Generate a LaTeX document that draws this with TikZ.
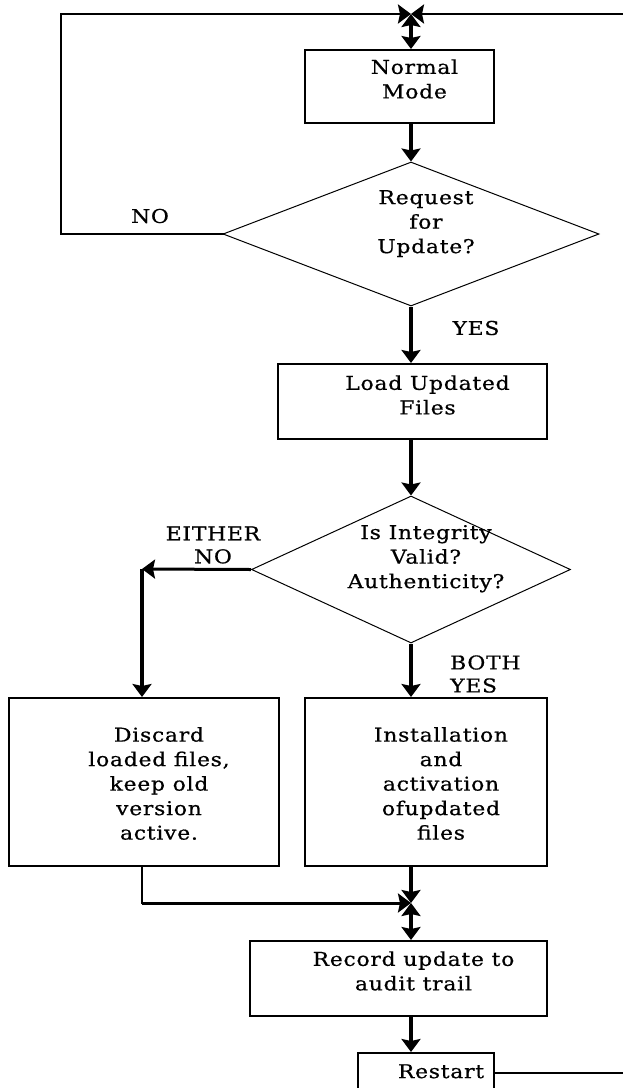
\documentclass[tikz,border=0pt]{standalone}
\usepackage{fontspec}
\setmainfont[FakeStretch=1.15,LetterSpace=4,FakeBold=0.7]{DejaVu Serif}
\usetikzlibrary{shapes.geometric, arrows.meta}
% text sits a bit right of the box centre, raised by #1
\newcommand{\boxtext}[2][0pt]{\makebox[0pt]{\hspace*{30pt}\smash{\raisebox{#1}{\begin{tabular}{@{}c@{}}#2\end{tabular}}}}}

\begin{document}
\begin{tikzpicture}[x=1pt, y=-1pt,
  box/.style={rectangle, draw, line width=2pt, inner sep=0pt,
              font=\fontsize{19}{24.5}\selectfont},
  test/.style={diamond, draw, line width=1pt, inner sep=0pt,
               font=\fontsize{19}{24.5}\selectfont},
  lbl/.style={inner sep=0pt, align=center, font=\fontsize{19}{23}\selectfont},
  arr/.style={-{Stealth[length=13pt, width=19pt, inset=2pt]}, line width=4pt},
  darr/.style={{Stealth[length=13pt, width=19pt, inset=2pt]}-{Stealth[length=13pt, width=19pt, inset=2pt]},
               line width=4pt},
  link/.style={line width=2pt, line cap=rect}
]
  \useasboundingbox (0,0) rectangle (623,1088);

  % junctions and bends
  \coordinate (j1) at (411,14);
  \coordinate (j2) at (411,903);
  \coordinate (topleft) at (61,14);
  \coordinate (topright) at (623,14);
  \coordinate (turn) at (142,569);
  \coordinate (turn2) at (142,903);
  \coordinate (rightend) at (623,1073);

  \node[box, minimum width=189pt, minimum height=73pt] (normal) at (399.5,86.5)
       {\boxtext[1pt]{Normal\\Mode}};
  \node[test, minimum width=376pt, minimum height=144pt] (request) at (411,234)
       {\boxtext[6pt]{Request\\for\\Update?}};
  \node[box, minimum width=269pt, minimum height=75pt] (load) at (412.5,401.5)
       {\boxtext{Load Updated\\Files}};
  \node[test, minimum width=319pt, minimum height=147pt] (valid) at (411,569.5)
       {\boxtext[6.5pt]{Is Integrity\\Valid?\\Authenticity?}};
  \node[box, minimum width=270pt, minimum height=168pt] (discard) at (144,782)
       {\boxtext[-8pt]{Discard\\loaded files,\\keep old\\version\\active.}};
  \node[box, minimum width=242pt, minimum height=168pt] (install) at (426,782)
       {\boxtext[-8pt]{Installation\\and\\activation\\ofupdated\\files}};
  \node[box, minimum width=297pt, minimum height=75pt] (record) at (398.5,978.5)
       {\boxtext[1pt]{Record update to\\audit trail}};
  \node[box, minimum width=136pt, minimum height=40pt] (restart) at (426,1073)
       {\boxtext[-4.5pt]{Restart}};

  % branch labels
  \node[lbl] (nolbl) at (150,216) {NO};
  \node[lbl] (yeslbl) at (476,328) {YES};
  \node[lbl] (eitherlbl) at (213,545) {EITHER\\NO};
  \node[lbl, align=left, anchor=west] (bothlbl) at (450,674) {BOTH\\YES};

  % main column
  \draw[darr] (j1) -- (normal.north -| j1);
  \draw[arr] (normal.south -| j1) -- (request.north);
  \draw[arr] (request.south) -- (load.north -| j1);
  \draw[arr] (load.south -| j1) -- (valid.north);
  \draw[arr] (valid.south) -- (install.north -| valid.south);
  \draw[arr] (install.south -| j2) -- (j2);
  \draw[darr] (j2) -- (record.north -| j2);
  \draw[arr] (record.south -| j2) -- (restart.north -| j2);

  % loops and side branch
  \draw[link] (request.west) -| (topleft);
  \draw[arr, line width=2.5pt] (topleft) -- (j1);
  \draw[arr, line width=2.5pt] (topright) -- (j1);
  \draw[arr, line width=3pt] (valid.west) -- (turn);
  \draw[arr, line width=3.5pt] (turn) -- (discard.north -| turn);
  \draw[link] (discard.south -| turn2) -- (turn2);
  \draw[arr, line width=3pt] (turn2) -- (j2);
  \draw[link] (restart.east) -- (rightend);
\end{tikzpicture}
\end{document}
